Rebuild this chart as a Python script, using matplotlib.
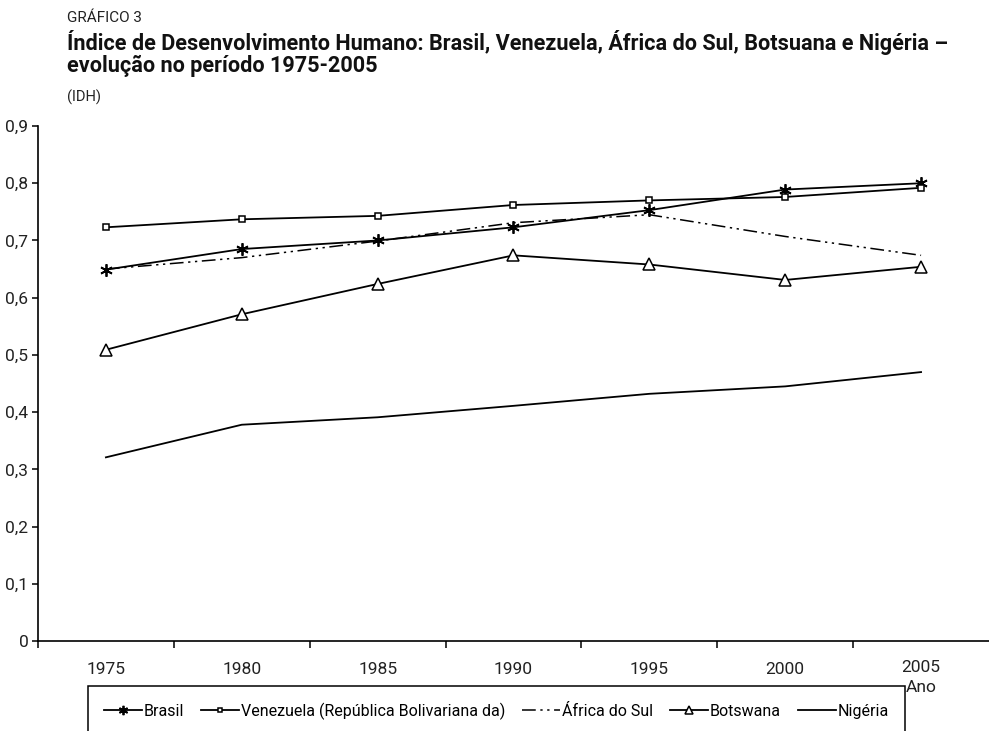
import numpy as np
import matplotlib.pyplot as plt

plt.rcParams['font.family'] = ['Roboto', 'DejaVu Sans']

# data (IDH)
anos = ['1975', '1980', '1985', '1990', '1995', '2000', '2005']
brasil = [0.649, 0.685, 0.700, 0.723, 0.753, 0.789, 0.800]
venezuela = [0.723, 0.737, 0.743, 0.762, 0.770, 0.776, 0.792]
africa_sul = [0.650, 0.670, 0.699, 0.731, 0.745, 0.707, 0.674]
botswana = [0.509, 0.571, 0.624, 0.674, 0.658, 0.631, 0.654]
nigeria = [0.321, 0.378, 0.391, 0.411, 0.432, 0.445, 0.470]

fig = plt.figure(figsize=(9.89, 7.31), dpi=100)
ax = fig.add_axes([0.0384, 0.1231, 0.9616, 0.7045])

x = np.arange(len(anos))
asterisk = (6, 2, 0)
ax.plot(x, brasil, color='black', lw=1.3, marker=asterisk, ms=9, mew=1.3, label='Brasil')
ax.plot(x, venezuela, color='black', lw=1.3, marker='s', ms=4.5, mfc='white', mew=1.1,
        label='Venezuela (República Bolivariana da)')
ax.plot(x, africa_sul, color='black', lw=1.1, dashes=(9, 3, 1.5, 3, 1.5, 3), label='África do Sul')
ax.plot(x, botswana, color='black', lw=1.3, marker='^', ms=8, mfc='white', mew=1.1, label='Botswana')
ax.plot(x, nigeria, color='black', lw=1.3, label='Nigéria')

ax.set_xlim(-0.5, 6.5)
ax.set_ylim(0, 0.9)
ax.spines['top'].set_visible(False)
ax.spines['right'].set_visible(False)
ax.spines['left'].set_linewidth(1.2)
ax.spines['bottom'].set_linewidth(1.2)

ax.set_yticks(np.arange(0, 0.91, 0.1))
ax.set_yticklabels(['0'] + ['0,%d' % i for i in range(1, 10)], fontsize=12.5, color='#222222')
ax.set_xticks(np.arange(-0.5, 6, 1))
ax.set_xticklabels([])
ax.set_xticks(x, minor=True)
ax.set_xticklabels(anos[:-1] + [''], minor=True, fontsize=12.5, color='#222222')
ax.tick_params(axis='x', which='minor', length=0, pad=15)
ax.tick_params(axis='x', which='major', length=5, width=1.1, direction='out')
ax.tick_params(axis='y', length=4, width=1.1, direction='out', pad=3)

# last year label + axis name
ax.text(6, -0.033, '2005', ha='center', va='top', fontsize=12.5, color='#222222')
ax.text(6, -0.069, 'Ano', ha='center', va='top', fontsize=12.5, color='#222222')

# titles
fig.text(0.068, 0.976, 'GRÁFICO 3', fontsize=11, color='#222222', va='center')
fig.text(0.068, 0.942, 'Índice de Desenvolvimento Humano: Brasil, Venezuela, África do Sul, Botsuana e Nigéria –',
         fontsize=15.6, fontweight='bold', va='center', color='#111111')
fig.text(0.068, 0.910, 'evolução no período 1975-2005', fontsize=15.6, fontweight='bold', va='center',
         color='#111111')
fig.text(0.068, 0.867, '(IDH)', fontsize=10.5, va='center', color='#222222')

leg = fig.legend(loc='upper left', bbox_to_anchor=(0.089, 0.061), ncol=5, fontsize=11.5,
                 frameon=True, fancybox=False, edgecolor='black', framealpha=1,
                 handlelength=2.4, handletextpad=0.1, columnspacing=1.05, markerscale=0.75,
                 borderpad=1.0, borderaxespad=0)
leg.get_frame().set_linewidth(1.1)

fig.savefig('out.png', dpi=100)
